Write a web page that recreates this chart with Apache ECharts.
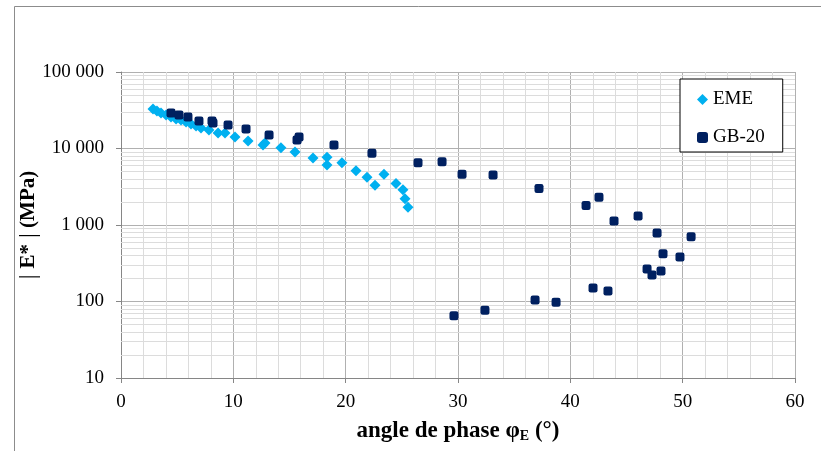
<!DOCTYPE html>
<html>
<head>
<meta charset="utf-8">
<script src="https://cdn.jsdelivr.net/npm/echarts@6/dist/echarts.min.js"></script>
<style>
  html, body { margin: 0; padding: 0; background: #fff; }
  #chart { width: 821px; height: 451px; }
</style>
</head>
<body>
<div id="chart"></div>
<script>
  // EME (light blue diamonds): phase angle (deg) / |E*| (MPa)
  var emePhase = [2.85, 3.2, 3.56, 4.01, 4.45, 4.9, 5.34, 5.79, 6.23, 6.68, 7.12, 7.83, 8.64, 9.26,
    10.15, 11.31, 12.64, 12.82, 14.24, 15.49, 17.09, 18.34, 18.34, 19.67, 20.92, 21.9, 22.61,
    23.41, 24.48, 25.1, 25.28, 25.55];
  var emeModulus = [32800, 30900, 29100, 27400, 25800, 24300, 23600, 22200, 20900, 19700, 18500,
    17500, 16000, 16000, 14100, 12500, 11100, 11800, 10200, 9000, 7500, 7700, 6100, 6500, 5100,
    4200, 3300, 4600, 3500, 2900, 2200, 1700];

  // GB-20 (dark squares)
  var gbPhase = [4.45, 5.16, 5.96, 6.94, 8.1, 8.19, 9.53, 11.13, 13.18, 15.67, 15.85, 18.96, 22.34,
    26.44, 28.58, 30.36, 33.12, 37.21, 41.4, 42.55, 43.89, 46.03, 47.72, 50.75, 48.25, 49.76,
    46.83, 47.27, 48.07, 42.02, 43.35, 38.73, 36.86, 32.4, 29.64];
  var gbModulus = [29100, 27400, 25800, 22900, 22900, 21500, 20300, 18000, 15000, 12900, 14100,
    11100, 8700, 6500, 6700, 4600, 4500, 3000, 1800, 2300, 1130, 1310, 785, 700, 420, 382, 266,
    222, 250, 150, 137, 98, 105, 77, 65];

  var yTickLabels = { 10: '10', 100: '100', 1000: '1 000', 10000: '10 000', 100000: '100 000' };

  // light log grid lines 2..9 in each decade
  var minorLines = [];
  [10, 100, 1000, 10000].forEach(function (d) {
    for (var k = 2; k <= 9; k++) {
      minorLines.push({ yAxis: d * k });
    }
  });

  function pairs(xs, ys) {
    return xs.map(function (x, i) { return [x, ys[i]]; });
  }

  var font = 'Liberation Serif';
  var chart = echarts.init(document.getElementById('chart'));

  chart.setOption({
    animation: false,
    backgroundColor: '#fff',
    textStyle: { fontFamily: font },
    graphic: [{
      type: 'rect',
      shape: { x: 14.5, y: 6.5, width: 1000, height: 1000 },
      style: { fill: 'none', stroke: '#8c8c8c', lineWidth: 1 },
      silent: true
    }],
    grid: { left: 121, right: 26, top: 72, bottom: 73 },
    legend: {
      orient: 'vertical',
      left: 680,
      top: 79,
      padding: [11, 18, 5, 17],
      itemGap: 19,
      itemWidth: 11,
      itemHeight: 11,
      borderColor: '#000',
      borderWidth: 1,
      backgroundColor: '#fff',
      textStyle: { fontFamily: font, fontSize: 19, color: '#000' },
      data: ['EME', 'GB-20']
    },
    xAxis: {
      type: 'value',
      min: 0,
      max: 60,
      interval: 10,
      name: '{a|angle de phase φ}{s|E}{a| (°)}',
      nameLocation: 'middle',
      nameGap: 42,
      nameMoveOverlap: false,
      nameTextStyle: {
        rich: {
          a: { fontFamily: font, fontSize: 23, fontWeight: 'bold', color: '#000', verticalAlign: 'bottom' },
          s: { fontFamily: font, fontSize: 14, fontWeight: 'bold', color: '#000', verticalAlign: 'bottom' }
        }
      },
      axisLine: { lineStyle: { color: '#868686' } },
      axisTick: { show: true, length: 5, lineStyle: { color: '#868686' } },
      axisLabel: { fontFamily: font, fontSize: 19, color: '#000', margin: 15 },
      splitLine: { show: true, lineStyle: { color: '#b0b0b0' } },
      minorTick: { show: false, splitNumber: 5 },
      minorSplitLine: { show: true, lineStyle: { color: '#dcdcdc' } }
    },
    yAxis: {
      type: 'log',
      logBase: 10,
      min: 10,
      max: 100000,
      name: '{b|| }{t|E*}{b| |}{t| (MPa)}',
      nameLocation: 'middle',
      nameGap: 80,
      nameMoveOverlap: false,
      nameTextStyle: {
        rich: {
          b: { fontFamily: font, fontSize: 24, color: '#000' },
          t: { fontFamily: font, fontSize: 21, fontWeight: 'bold', color: '#000' }
        }
      },
      axisLine: { show: true, lineStyle: { color: '#868686' } },
      axisTick: { show: true, length: 5, lineStyle: { color: '#868686' } },
      axisLabel: {
        fontFamily: font, fontSize: 19, color: '#000', margin: 17,
        formatter: function (v) { return yTickLabels[Math.round(v)] || ''; }
      },
      splitLine: { show: true, lineStyle: { color: '#b0b0b0' } }
    },
    series: [
      {
        name: 'EME',
        type: 'scatter',
        symbol: 'diamond',
        symbolSize: 11,
        itemStyle: { color: '#00b0f0', opacity: 1 },
        data: pairs(emePhase, emeModulus),
        z: 3,
        markLine: {
          silent: true,
          symbol: 'none',
          label: { show: false },
          lineStyle: { color: '#dcdcdc', type: 'solid', width: 1 },
          data: minorLines,
          z: 1
        }
      },
      {
        name: 'GB-20',
        type: 'scatter',
        symbol: 'roundRect',
        symbolSize: 9,
        itemStyle: { color: '#002060', opacity: 1 },
        data: pairs(gbPhase, gbModulus),
        z: 4
      }
    ]
  });
</script>
</body>
</html>
